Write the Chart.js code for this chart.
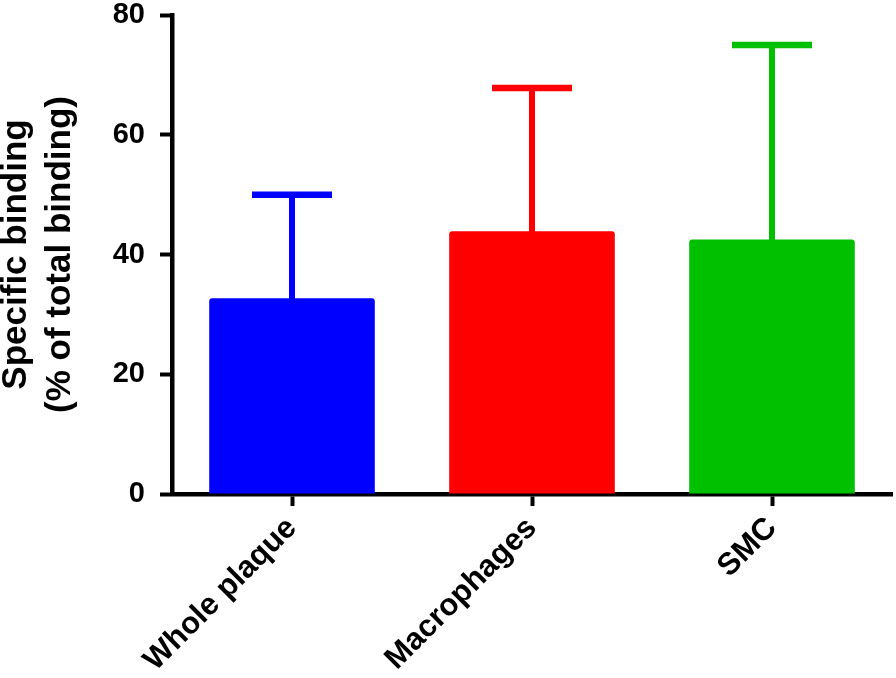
<!DOCTYPE html>
<html>
<head>
<meta charset="utf-8">
<script src="https://cdn.jsdelivr.net/npm/chart.js@4/dist/chart.umd.min.js"></script>
<style>
  html, body { margin: 0; padding: 0; background: #ffffff; }
  #wrap { width: 896px; height: 678px; }
</style>
</head>
<body>
<div id="wrap"><canvas id="c" width="896" height="678"></canvas></div>
<script>
const categories = ['Whole plaque', 'Macrophages', 'SMC'];
const meanValues = [32.7, 43.9, 42.5];
const errorSD = [17.3, 23.9, 32.5];
const barColors = ['#0000FF', '#FF0000', '#00C000'];
const yTickValues = [0, 20, 40, 60, 80];
const yTitle = ['Specific binding', '(% of total binding)'];

const errorBarPlugin = {
  id: 'errorBars',
  afterDatasetsDraw(chart) {
    const ctx = chart.ctx;
    const meta = chart.getDatasetMeta(0);
    const yScale = chart.scales.y;
    ctx.save();
    meta.data.forEach((bar, i) => {
      const topPx = yScale.getPixelForValue(meanValues[i] + errorSD[i]);
      ctx.strokeStyle = barColors[i];
      ctx.lineCap = 'butt';
      ctx.lineWidth = 6;
      ctx.beginPath();
      ctx.moveTo(bar.x, bar.y + 2);
      ctx.lineTo(bar.x, topPx);
      ctx.stroke();
      ctx.lineWidth = 6.5;
      ctx.beginPath();
      ctx.moveTo(bar.x - 40, topPx);
      ctx.lineTo(bar.x + 40, topPx);
      ctx.stroke();
    });
    ctx.restore();
  }
};

const fontFamily = '"Liberation Sans", Arial, sans-serif';

new Chart(document.getElementById('c'), {
  type: 'bar',
  data: {
    labels: categories,
    datasets: [{
      data: meanValues,
      backgroundColor: barColors,
      borderWidth: 0,
      borderRadius: 3,
      categoryPercentage: 1.0,
      barPercentage: 0.69
    }]
  },
  options: {
    responsive: false,
    animation: false,
    devicePixelRatio: 1,
    layout: { padding: { top: 0, right: 4, left: 0, bottom: 0 } },
    plugins: {
      legend: { display: false },
      tooltip: { enabled: false },
      title: { display: false }
    },
    scales: {
      x: {
        z: 1,
        offset: true,
        border: { display: true, color: '#000000', width: 4.5 },
        grid: {
          display: true,
          offset: false,
          drawOnChartArea: false,
          drawTicks: true,
          tickLength: 12,
          tickWidth: 4,
          tickColor: '#000000',
          color: '#000000'
        },
        ticks: {
          color: '#000000',
          font: { family: fontFamily, size: 31, weight: 'bold' },
          minRotation: 45,
          maxRotation: 45,
          padding: 4,
          autoSkip: false
        },
        afterFit(scale) { scale.height = 184; scale.paddingLeft = 0; scale.paddingRight = 0; }
      },
      y: {
        z: 1,
        min: 0,
        max: 80,
        afterBuildTicks(scale) { scale.ticks = yTickValues.map(v => ({ value: v })); },
        border: { display: true, color: '#000000', width: 4.5 },
        grid: {
          display: true,
          drawOnChartArea: false,
          drawTicks: true,
          tickLength: 12,
          tickWidth: 4,
          tickColor: '#000000',
          color: '#000000'
        },
        ticks: {
          color: '#000000',
          font: { family: fontFamily, size: 29, weight: 'bold' },
          padding: 15
        },
        title: {
          display: true,
          text: yTitle,
          color: '#000000',
          font: { family: fontFamily, size: 35, weight: 'bold', lineHeight: 1.24 },
          padding: { top: -5, bottom: 0 }
        },
        afterFit(scale) { scale.width = 172; scale.paddingTop = 15; scale.paddingBottom = 0; }
      }
    }
  },
  plugins: [errorBarPlugin]
});
</script>
</body>
</html>
